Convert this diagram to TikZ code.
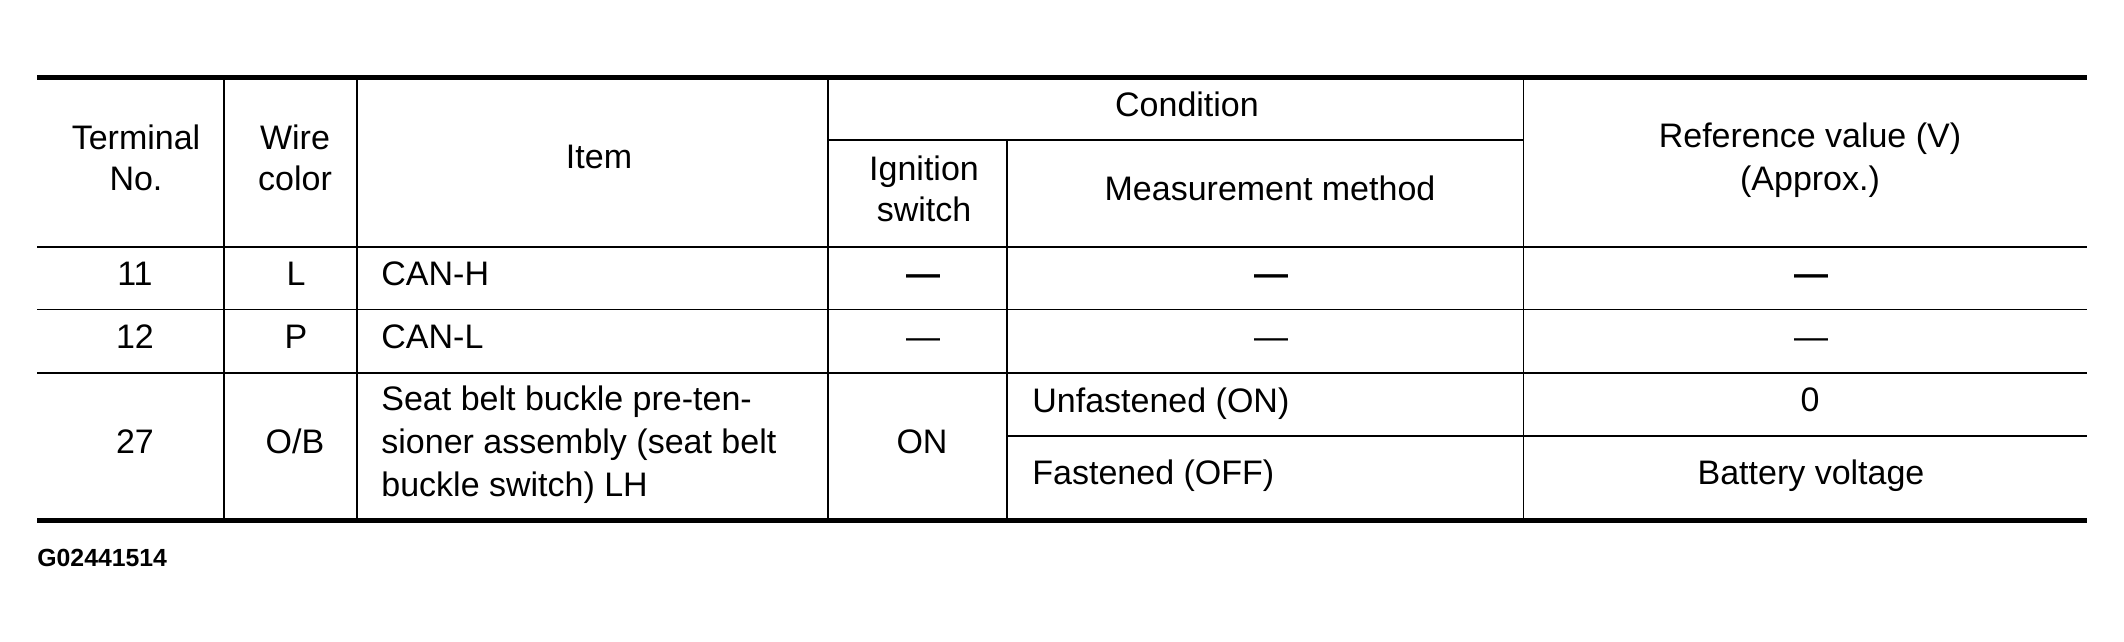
\documentclass[tikz,border=0pt]{standalone}
\usepackage{fontspec}
\setmainfont{Liberation Sans}
\usepackage{tikz}
\usetikzlibrary{positioning}

\begin{document}
\begin{tikzpicture}[x=0.5pt, y=-0.5pt, inner sep=0pt,
		every node/.style={font=\fontsize{17}{21}\selectfont},
		txt/.style={anchor=base},
		ltxt/.style={anchor=base west},
		rulethick/.style={line width=2.5pt},
		rulemid/.style={line width=1pt},
		rulethin/.style={line width=0.5pt}]
		\useasboundingbox (0,0) rectangle (2124,642);
		% Rules
		\draw[rulethick] (37,77.5) -- (2087,77.5);
		\draw[rulethick] (37,520.5) -- (2087,520.5);
		\draw[rulemid] (828,140) -- (1523,140);
		\draw[rulemid] (37,246.7) -- (2087,246.7);
		\draw[rulethin] (37,309.3) -- (2087,309.3);
		\draw[rulemid] (37,372.7) -- (2087,372.7);
		\draw[rulemid] (1007,436) -- (2087,436);
		\foreach \x in {224,357,828}
			\draw[rulemid] (\x,77.5) -- (\x,520.5);
		\draw[rulemid] (1007,140) -- (1007,520.5);
		\draw[rulethin] (1523,77.5) -- (1523,520.5);
		% Header
		\node[txt] (term1) at (136,149.3) {Terminal};
		\node[txt] (term2) at (136,190.7) {No.};
		\node[txt] (wire1) at (295,149.3) {Wire};
		\node[txt] (wire2) at (295,190.7) {color};
		\node[txt] (item)  at (599,169)   {Item};
		\node[txt] (cond)  at (1187,116.7) {Condition};
		\node[txt] (ign1)  at (924,180)   {Ignition};
		\node[txt] (ign2)  at (924,221.7) {switch};
		\node[txt] (meth)  at (1270,200.7) {Measurement method};
		\node[txt] (ref1)  at (1810,147.4) {Reference value (V)};
		\node[txt] (ref2)  at (1810,190)  {(Approx.)};
		% Rows
		\node[txt]  (t11) at (135,285.4) {11};
		\node[txt]  (w11) at (296,285.4) {L};
		\node[ltxt] (i11) at (381,285.4) {CAN-H};
		\node[txt]  (s11) at (923,285.4)  {\bfseries\textemdash};
		\node[txt]  (m11) at (1271,285.4) {\bfseries\textemdash};
		\node[txt]  (v11) at (1811,285.4) {\bfseries\textemdash};
		\node[txt]  (t12) at (135,348) {12};
		\node[txt]  (w12) at (296,348) {P};
		\node[ltxt] (i12) at (381,348) {CAN-L};
		\node[txt]  (s12) at (923,348)  {\textemdash};
		\node[txt]  (m12) at (1271,348) {\textemdash};
		\node[txt]  (v12) at (1811,348) {\textemdash};
		\node[txt]  (t27) at (135,453.3) {27};
		\node[txt]  (w27) at (295,453.3) {O/B};
		\node[ltxt] (i27a) at (381,410)   {Seat belt buckle pre-ten-};
		\node[ltxt] (i27b) at (381,453.3) {sioner assembly (seat belt};
		\node[ltxt] (i27c) at (381,496)   {buckle switch) LH};
		\node[txt]  (s27) at (922,453.3) {ON};
		\node[ltxt] (m27a) at (1032,412) {Unfastened (ON)};
		\node[ltxt] (m27b) at (1032,484) {Fastened (OFF)};
		\node[txt]  (v27a) at (1810,411) {0};
		\node[txt]  (v27b) at (1811,484) {Battery voltage};
		% Code
		\node[ltxt, font=\fontsize{12.4}{14}\selectfont\bfseries] (code) at (37,566) {G02441514};
	\end{tikzpicture}
\end{document}
